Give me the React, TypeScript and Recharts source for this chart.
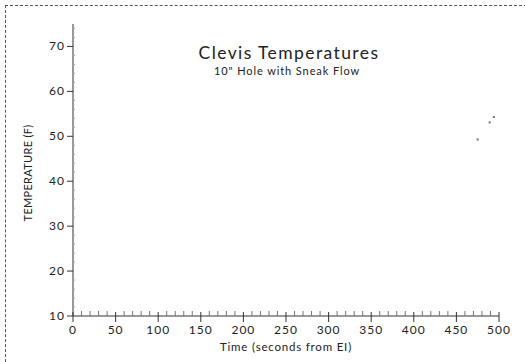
import React from 'react';
import { Scatter, ScatterChart, XAxis, YAxis } from 'recharts';

const xTicks = [0, 10, 20, 30, 40, 50, 60, 70, 80, 90, 100, 110, 120, 130, 140, 150, 160, 170, 180, 190, 200, 210, 220, 230, 240, 250, 260, 270, 280, 290, 300, 310, 320, 330, 340, 350, 360, 370, 380, 390, 400, 410, 420, 430, 440, 450, 460, 470, 480, 490, 500];
const yTicks = [10, 12, 14, 16, 18, 20, 22, 24, 26, 28, 30, 32, 34, 36, 38, 40, 42, 44, 46, 48, 50, 52, 54, 56, 58, 60, 62, 64, 66, 68, 70, 72, 74];

const times = [475, 489, 494];
const temps = [49.3, 53.1, 54.3];

const points = times.map((t, i) => ({ time: t, temp: temps[i] }));

const FONT = 'Lato, "DejaVu Sans", sans-serif';
const INK = '#333';

function XTick(props: any) {
  const { x, y, payload } = props;
  const v = payload.value;
  if (v % 50 === 0) {
    return (
      <g>
        <line x1={x} y1={y - 4} x2={x} y2={y + 6} stroke={INK} strokeWidth={1} />
        <text x={x} y={y + 18} textAnchor="middle" fontSize={12} letterSpacing={1} fontFamily={FONT} fill="#222">{v}</text>
      </g>
    );
  }
  return <line x1={x} y1={y} x2={x} y2={y - 5} stroke="#777" strokeWidth={1} />;
}

function YTick(props: any) {
  const { x, y, payload } = props;
  const v = payload.value;
  if (v % 10 === 0) {
    return (
      <g>
        <line x1={x - 6} y1={y} x2={x} y2={y} stroke={INK} strokeWidth={1} />
        <text x={x - 8} y={y + 4} textAnchor="end" fontSize={12} letterSpacing={1} fontFamily={FONT} fill="#222">{v}</text>
      </g>
    );
  }
  return <line x1={x} y1={y} x2={x + 2} y2={y} stroke="#aaa" strokeWidth={1} />;
}

function Dot(props: any) {
  const { cx, cy } = props;
  return <rect x={cx - 1} y={cy - 1} width={2} height={2} fill="#777" />;
}

export default function App() {
  return (
    <div style={{ position: 'absolute', left: 0, top: 0, width: 525, height: 362, background: '#fff', overflow: 'hidden' }}>
      <div style={{ position: 'absolute', left: 5, top: 5, width: 540, height: 380, border: '1px dashed #555' }} />
      <ScatterChart width={525} height={362} margin={{ top: 24, right: 26, bottom: 0, left: 0 }}>
        <XAxis
          dataKey="time"
          type="number"
          domain={[0, 500]}
          ticks={xTicks}
          interval={0}
          tick={<XTick />}
          tickLine={false}
          tickSize={0}
          tickMargin={0}
          height={46}
          axisLine={{ stroke: INK }}
        />
        <XAxis xAxisId="top" orientation="top" type="number" domain={[0, 500]} tick={false} tickLine={false} height={0} axisLine={{ stroke: '#555' }} />
        <YAxis
          dataKey="temp"
          type="number"
          domain={[10, 75]}
          ticks={yTicks}
          interval={0}
          tick={<YTick />}
          tickLine={false}
          tickSize={0}
          tickMargin={0}
          width={73}
          axisLine={{ stroke: INK }}
        />
        <YAxis yAxisId="right" orientation="right" type="number" domain={[10, 75]} tick={false} tickLine={false} width={0} axisLine={{ stroke: '#666' }} />
        <Scatter data={points} shape={<Dot />} isAnimationActive={false} />
        <text x={289} y={59} textAnchor="middle" fontSize={17.5} letterSpacing={1.4} fontFamily={FONT} fill="#222">Clevis Temperatures</text>
        <text x={287} y={75} textAnchor="middle" fontSize={11} letterSpacing={0.9} fontFamily={FONT} fill="#222">10" Hole with Sneak Flow</text>
        <text x={286} y={351} textAnchor="middle" fontSize={11.5} letterSpacing={0.8} fontFamily={FONT} fill="#222">Time (seconds from EI)</text>
        <text x={32} y={173} textAnchor="middle" fontSize={11} letterSpacing={0.3} fontFamily={FONT} fill="#222" transform="rotate(-90 32 173)">TEMPERATURE (F)</text>
      </ScatterChart>
    </div>
  );
}
